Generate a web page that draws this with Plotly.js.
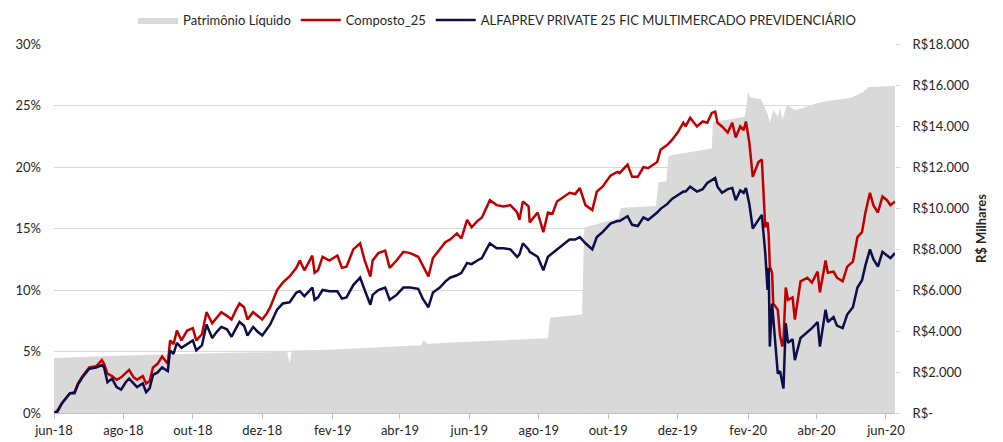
<!DOCTYPE html>
<html>
<head>
<meta charset="utf-8">
<script src="https://cdn.plot.ly/plotly-3.0.1.min.js"></script>
<style>html,body{margin:0;padding:0;background:#fff;}#chart{width:1003px;height:442px;}</style>
</head>
<body>
<div id="chart"></div>
<script>
// ---- Data ----
const dates = [
'2018-06-01','2018-06-04','2018-06-08','2018-06-15','2018-06-19','2018-06-22','2018-06-26','2018-07-02','2018-07-08','2018-07-13',
'2018-07-15','2018-07-18','2018-07-22','2018-07-26','2018-07-30','2018-08-03','2018-08-06','2018-08-10','2018-08-13','2018-08-18',
'2018-08-21','2018-08-24','2018-08-27','2018-08-31','2018-09-04','2018-09-09','2018-09-11','2018-09-14','2018-09-17','2018-09-21',
'2018-09-26','2018-10-01','2018-10-04','2018-10-09','2018-10-13','2018-10-18','2018-10-22','2018-10-26','2018-10-31','2018-11-04',
'2018-11-08','2018-11-11','2018-11-15','2018-11-18','2018-11-23','2018-11-27','2018-12-01','2018-12-05','2018-12-08','2018-12-14',
'2018-12-19','2018-12-25','2018-12-31','2019-01-03','2019-01-07','2019-01-14','2019-01-16','2019-01-19','2019-01-23','2019-01-29',
'2019-02-05','2019-02-09','2019-02-13','2019-02-19','2019-02-25','2019-03-01','2019-03-06','2019-03-08','2019-03-13','2019-03-19',
'2019-03-23','2019-03-29','2019-04-04','2019-04-10','2019-04-17','2019-04-21','2019-04-26','2019-04-30','2019-05-06','2019-05-11',
'2019-05-15','2019-05-21','2019-05-25','2019-05-30','2019-06-03','2019-06-08','2019-06-12','2019-06-16','2019-06-19','2019-06-25',
'2019-07-01','2019-07-07','2019-07-13','2019-07-15','2019-07-18','2019-07-23','2019-07-24','2019-07-31','2019-08-05','2019-08-09',
'2019-08-13','2019-08-17','2019-08-22','2019-08-28','2019-09-02','2019-09-06','2019-09-11','2019-09-17','2019-09-21','2019-09-26',
'2019-10-03','2019-10-09','2019-10-11','2019-10-18','2019-10-22','2019-10-27','2019-11-01','2019-11-05','2019-11-13','2019-11-16',
'2019-11-22','2019-11-26','2019-12-01','2019-12-06','2019-12-08','2019-12-12','2019-12-18','2019-12-23','2019-12-27','2019-12-31',
'2020-01-03','2020-01-05','2020-01-09','2020-01-14','2020-01-18','2020-01-21','2020-01-25','2020-01-28','2020-01-30','2020-02-02',
'2020-02-05','2020-02-10','2020-02-13','2020-02-16','2020-02-18','2020-02-19','2020-02-20','2020-02-22','2020-02-23','2020-02-27',
'2020-02-29','2020-03-02','2020-03-03','2020-03-05','2020-03-07','2020-03-11','2020-03-13','2020-03-18','2020-03-24','2020-03-28',
'2020-04-02','2020-04-04','2020-04-09','2020-04-11','2020-04-16','2020-04-19','2020-04-24','2020-04-28','2020-05-03','2020-05-07',
'2020-05-11','2020-05-14','2020-05-18','2020-05-21','2020-05-25','2020-05-29','2020-06-02','2020-06-05','2020-06-09'
];
const composto25 = [
0.0,0.2,0.8,1.6,1.7,2.4,3.0,3.7,3.8,4.3,
4.0,3.2,3.0,2.7,2.9,3.2,3.5,2.9,2.7,3.0,
2.4,2.6,3.7,4.0,4.6,4.0,5.9,5.6,6.7,5.9,
6.7,6.9,5.9,6.4,8.2,7.3,7.8,8.2,7.9,7.6,
8.4,8.9,8.6,7.6,8.2,7.9,7.6,8.1,8.6,10.0,
10.6,11.1,11.8,12.4,11.6,12.8,11.4,11.6,12.7,12.4,
12.8,11.8,11.9,13.3,13.8,12.4,11.1,12.4,13.0,13.2,
11.8,12.4,13.1,13.0,12.7,12.0,11.1,12.6,13.3,13.9,
14.1,14.6,14.2,15.7,15.1,15.6,15.9,16.7,17.3,16.9,
16.8,16.9,16.3,15.7,17.2,16.8,15.5,16.3,14.7,16.3,
16.2,17.2,17.5,17.9,17.8,18.3,16.9,16.5,18.0,18.4,
19.3,19.6,19.5,20.2,19.2,19.2,20.0,19.9,20.4,21.4,
21.8,22.2,22.8,23.6,23.3,24.0,23.3,23.7,23.6,24.4,
24.5,23.6,23.3,22.8,23.6,22.4,23.3,23.0,23.7,22.0,
19.2,20.4,20.6,15.1,15.5,14.5,11.9,11.4,8.9,8.4,
6.3,5.4,6.0,10.2,9.2,9.4,7.6,10.7,11.0,10.6,
11.5,9.8,12.4,11.4,11.5,11.0,10.7,11.9,12.3,14.3,
14.7,16.3,17.9,16.9,16.3,17.6,17.3,16.9,17.2
];
const alfaprev25 = [
0.0,0.1,0.8,1.6,1.6,2.3,2.9,3.6,3.7,3.9,
3.7,2.5,2.8,2.1,1.9,2.5,2.8,2.4,2.1,2.4,
1.7,2.0,3.1,3.3,3.7,3.4,5.1,4.8,5.7,5.3,
5.6,5.9,5.1,5.5,7.2,6.1,6.6,7.0,6.8,6.2,
6.9,7.4,7.1,6.3,7.0,6.6,6.3,6.8,7.2,8.4,
8.9,9.0,9.8,9.9,9.5,10.2,9.2,9.4,10.0,9.9,
9.9,9.3,9.4,10.4,11.0,10.0,8.8,9.6,10.0,10.2,
9.2,9.6,10.2,10.2,10.1,9.3,8.6,9.8,10.2,10.7,
11.0,11.2,11.4,12.2,12.1,12.4,12.6,13.3,13.8,13.4,
13.4,13.3,12.7,12.9,13.8,13.3,13.1,12.7,11.6,12.7,
13.0,13.3,13.7,14.1,14.1,14.3,13.8,13.3,14.3,14.7,
15.4,15.6,15.6,16.0,15.3,15.2,15.9,15.7,16.3,16.6,
17.0,17.4,17.7,18.0,18.0,18.4,18.0,18.2,18.7,18.9,
19.1,18.4,17.9,18.2,18.3,17.3,18.1,17.9,18.3,17.0,
15.0,15.7,16.1,13.0,10.0,11.8,5.4,8.9,7.6,3.2,
3.4,2.6,2.0,7.3,5.7,6.0,4.3,6.1,6.6,6.9,
7.4,5.4,8.4,7.4,7.8,7.1,6.9,8.0,8.6,10.2,
10.8,12.0,13.3,12.5,11.9,13.1,12.8,12.6,13.0
];
const plDates = [
'2018-06-01','2018-07-20','2018-10-07','2018-12-23','2018-12-25','2018-12-27','2019-01-29','2019-03-15','2019-04-19','2019-04-22',
'2019-04-25','2019-06-10','2019-08-09','2019-08-11','2019-09-08','2019-09-10','2019-09-24','2019-10-10','2019-10-12','2019-11-12',
'2019-11-14','2019-11-21','2019-11-23','2019-12-31','2020-01-01','2020-01-29','2020-02-01','2020-02-03','2020-02-12','2020-02-14',
'2020-02-18','2020-02-20','2020-02-23','2020-02-27','2020-02-29','2020-03-02','2020-03-06','2020-03-13','2020-03-20','2020-04-02',
'2020-04-16','2020-05-01','2020-05-12','2020-05-17','2020-06-09'
];
const plValues = [
2680,2780,2900,2990,2400,3050,3080,3200,3300,3550,
3380,3500,3650,4650,4800,9050,9250,9500,10000,10100,
11250,11300,12550,12900,14200,14450,15660,15400,15300,15100,
14600,14150,14780,14450,14880,14300,15020,14780,14880,15120,
15270,15370,15660,15900,15950
];
const xTickVals = ['2018-06-01','2018-08-01','2018-10-01','2018-12-01','2019-02-01','2019-04-01','2019-06-01','2019-08-01','2019-10-01','2019-12-01','2020-02-01','2020-04-01','2020-06-01'];
const xTickText = ['jun-18','ago-18','out-18','dez-18','fev-19','abr-19','jun-19','ago-19','out-19','dez-19','fev-20','abr-20','jun-20'];
const pctTickVals = [0,5,10,15,20,25,30];
const pctTickText = ['0%','5%','10%','15%','20%','25%','30%'];
const brlTickVals = [0,2000,4000,6000,8000,10000,12000,14000,16000,18000];
const brlTickText = ['R$-','R$2.000','R$4.000','R$6.000','R$8.000','R$10.000','R$12.000','R$14.000','R$16.000','R$18.000'];

const FONT = 'Lato, "Liberation Sans", sans-serif';
const traces = [
  {x: plDates, y: plValues, name: 'Patrimônio Líquido', type: 'scatter', mode: 'lines',
   fill: 'tozeroy', fillcolor: '#D9D9D9', line: {width: 0, color: '#D9D9D9'}, yaxis: 'y', hoverinfo: 'skip'},
  {x: dates, y: composto25, name: 'Composto_25', type: 'scatter', mode: 'lines',
   line: {color: '#C00000', width: 2.5}, yaxis: 'y2'},
  {x: dates, y: alfaprev25, name: 'ALFAPREV PRIVATE 25 FIC MULTIMERCADO PREVIDENCIÁRIO', type: 'scatter', mode: 'lines',
   line: {color: '#0D0D4A', width: 2.5}, yaxis: 'y2'}
];
const layout = {
  width: 1003, height: 442,
  margin: {l: 54, r: 108, t: 44, b: 29, autoexpand: false},
  paper_bgcolor: '#fff', plot_bgcolor: 'rgba(0,0,0,0)',
  font: {family: FONT, size: 13, color: '#262626'},
  showlegend: true,
  legend: {orientation: 'h', x: 0.094, xanchor: 'left', y: 1.065, yanchor: 'middle',
           font: {family: FONT, size: 13, color: '#262626'}, itemwidth: 40, traceorder: 'normal'},
  xaxis: {type: 'date', range: ['2018-06-01', '2020-06-09'], tickvals: xTickVals, ticktext: xTickText,
          showgrid: false, showline: true, linecolor: '#BFBFBF', linewidth: 1, ticks: 'outside',
          tickcolor: '#BFBFBF', ticklen: 5, zeroline: false, tickfont: {size: 13}},
  yaxis: {side: 'right', range: [0, 18000], tickvals: brlTickVals, ticktext: brlTickText,
          showgrid: false, zeroline: false, showline: false, ticks: 'outside', ticklen: 4,
          tickcolor: '#D9D9D9', ticklabelstandoff: 10,
          title: {text: '<b>R$ Milhares</b>', font: {size: 13}, standoff: 8}},
  yaxis2: {overlaying: 'y', side: 'left', range: [0, 30], tickvals: pctTickVals, ticktext: pctTickText,
           showgrid: true, gridcolor: '#D9D9D9', gridwidth: 1, zeroline: false, showline: false,
           ticks: '', ticklabelstandoff: 12}
};
Plotly.newPlot('chart', traces, layout, {displayModeBar: false, staticPlot: true});
</script>
</body>
</html>
